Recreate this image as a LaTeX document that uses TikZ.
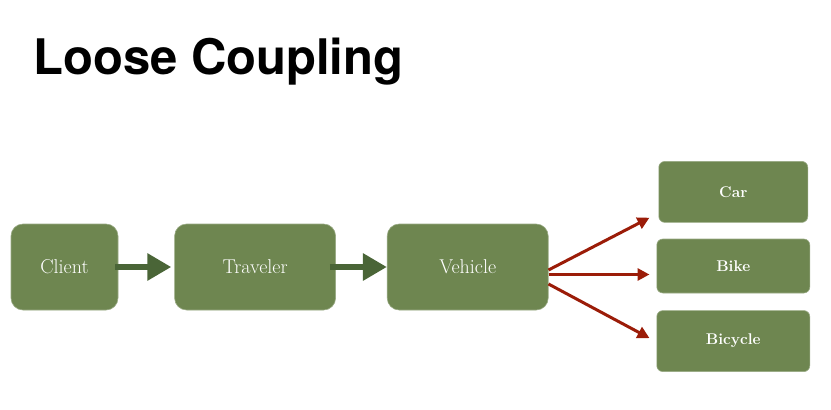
\documentclass[tikz,border=0pt]{standalone}
\usepackage{fontspec}
\usepackage{xcolor}
\usepackage{tikz}
\usetikzlibrary{arrows.meta,positioning,calc}
\newfontfamily\titlefont{TeX Gyre Heros}
\definecolor{couplingGreen}{HTML}{6E8650}
\definecolor{couplingDark}{HTML}{4A6537}
\definecolor{couplingRed}{HTML}{9B1C08}
\tikzset{
  stage/.style={
    rectangle,
    rounded corners=12pt,
    fill=couplingGreen,
    draw=couplingGreen!70!white,
    line width=0.6pt,
    minimum height=86pt,
    minimum width=161pt,
    align=center,
    text=white,
    font=\fontsize{20}{22}\selectfont
  },
  variant/.style={
    rectangle,
    rounded corners=6pt,
    fill=couplingGreen,
    draw=couplingGreen!70!white,
    line width=0.6pt,
    minimum height=61pt,
    minimum width=153pt,
    align=center,
    text=white,
    font=\fontsize{15.5}{17}\selectfont\bfseries
  },
  flowArrow/.style={
    -{Triangle[length=24pt,width=26pt]},
    line width=6pt,
    draw=couplingDark
  },
  fanArrow/.style={
    -{Triangle[length=12pt,width=12pt]},
    line width=3pt,
    draw=couplingRed
  }
}
\begin{document}
\begin{tikzpicture}[x=1pt,y=-1pt]
  \useasboundingbox (0,0) rectangle (831,410);
  \node[anchor=base west,inner sep=0pt,font=\titlefont\bfseries\fontsize{49}{51}\selectfont] (title) at (33,74) {Loose Coupling};
  \node[stage,minimum width=107pt] (client) at (64.5,267) {Client};
  \node[stage,right=56pt of client] (traveler) {Traveler};
  \node[stage,right=51pt of traveler] (vehicle) {Vehicle};
  \node[variant,minimum height=54pt,right=108pt of vehicle.east,anchor=west,yshift=1pt] (bike) {Bike};
  \node[variant,minimum width=149pt,above=16pt of bike] (car) {Car};
  \node[variant,below=17pt of bike] (bicycle) {Bicycle};
  \draw[flowArrow] ([xshift=-3pt]client.east) -- ([xshift=-3pt]traveler.west);
  \draw[flowArrow] ([xshift=-6pt]traveler.east) -- (vehicle.west);
  \draw[fanArrow] ([yshift=-3pt]vehicle.east) -- ($(car.south west)+(-9pt,5pt)$);
  \draw[fanArrow] ([yshift=-7.5pt]vehicle.east) -- ($(bike.west)+(-7pt,-8.5pt)$);
  \draw[fanArrow] ([yshift=-17pt]vehicle.east) -- ($(bicycle.west)+(-7pt,3pt)$);
\end{tikzpicture}
\end{document}
